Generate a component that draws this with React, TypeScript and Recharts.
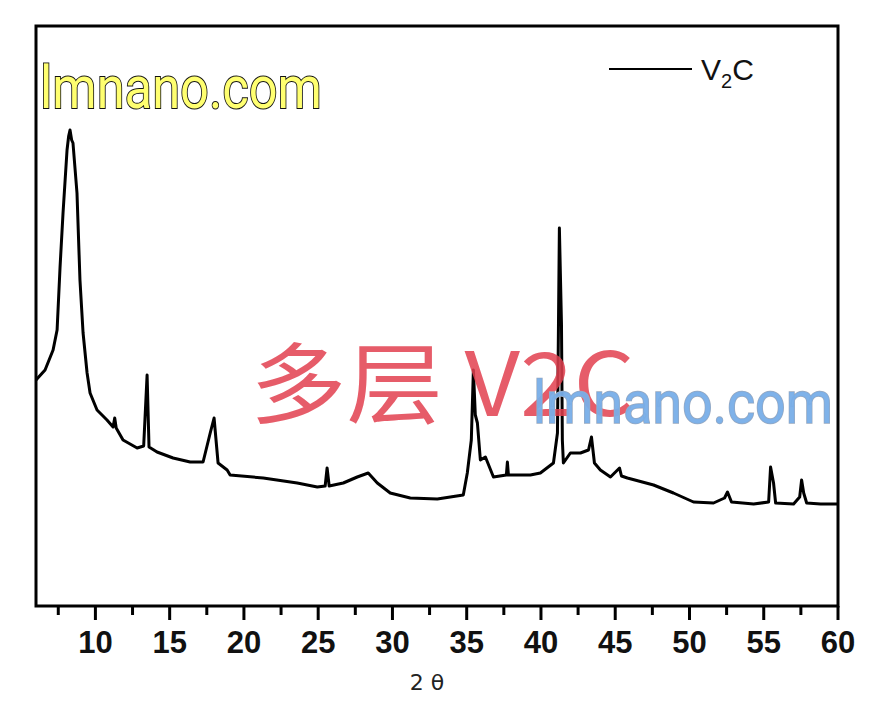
import React from 'react';
import { LineChart, Line, XAxis, YAxis, ReferenceArea } from 'recharts';

const twoTheta = [
  6.0, 6.61, 7.15, 7.42, 7.62, 7.82, 8.09, 8.2, 8.29, 8.4, 8.49, 8.76, 8.96, 9.17, 9.44, 9.64,
  10.11, 10.78, 11.19, 11.3, 11.4, 11.86, 12.81, 13.25, 13.48, 13.61, 14.15, 15.23, 16.38, 17.25,
  17.73, 17.99, 18.26, 18.87, 19.07, 21.3, 23.59, 24.94, 25.47, 25.6, 25.74, 26.69,
  27.63, 28.37, 28.98, 29.85, 31.2, 33.02, 34.77, 35.04, 35.31, 35.45, 35.58, 35.72,
  35.92, 36.26, 36.8, 37.67, 37.74, 37.81, 39.29, 39.96, 40.84, 41.11, 41.24, 41.38,
  41.44, 41.51, 41.98, 42.66, 43.2, 43.4, 43.6, 44.0, 44.68, 45.29, 45.42, 45.82,
  47.58, 48.92, 50.27, 51.62, 52.36, 52.56, 52.83, 54.32, 55.33, 55.46, 55.66, 55.8,
  57.01, 57.42, 57.55, 57.69, 57.89, 58.83, 60.0,
];

const intensity = [
  226, 236, 256, 276, 339, 393, 456, 470, 476, 466, 463, 413, 326, 273, 233, 213,
  196, 186, 179, 188, 178, 166, 158, 160, 231, 159, 154, 148, 144, 144,
  173, 188, 143, 136, 131, 128, 123, 119, 120, 138, 120, 123,
  129, 133, 123, 113, 108, 107, 111, 133, 166, 236, 191, 183,
  146, 149, 129, 131, 144, 131, 131, 133, 143, 173, 378, 283,
  166, 143, 153, 153, 156, 169, 143, 136, 129, 138, 130, 128,
  121, 113, 104, 103, 108, 114, 104, 102, 104, 139, 123, 103,
  102, 109, 126, 113, 103, 102, 102,
];

const majorTicks = [10, 15, 20, 25, 30, 35, 40, 45, 50, 55, 60];
const minorTicks = [7.5, 12.5, 17.5, 22.5, 27.5, 32.5, 37.5, 42.5, 47.5, 52.5, 57.5];
const xLabel = '2 θ';
const seriesName = 'V';
const watermarkMain = 'lmnano.com';
const watermarkCenter = '多层 V2C';

const data = twoTheta.map((x, i) => ({ x, y: intensity[i] }));
const allTicks = [...minorTicks, ...majorTicks].sort((a, b) => a - b);

const Tick = (props: any) => {
  const { x, y, payload } = props;
  const v = payload.value;
  const isMajor = majorTicks.includes(v);
  return (
    <g>
      <line x1={x} y1={y} x2={x} y2={y + (isMajor ? 14 : 9)} stroke="#000" strokeWidth={3} />
      {isMajor && (
        <text
          x={x}
          y={y + 47}
          textAnchor="middle"
          fontFamily="'Liberation Sans', Arial, sans-serif"
          fontWeight="bold"
          fontSize={31}
          fill="#111"
        >
          {v}
        </text>
      )}
    </g>
  );
};

export default function App() {
  return (
    <div style={{ position: 'absolute', left: 0, top: 0, width: 879, height: 707, background: '#fff' }}>
      <LineChart
        width={879}
        height={707}
        data={data}
        margin={{ top: 26, right: 41, left: 36, bottom: 41 }}
      >
        <XAxis
          dataKey="x"
          type="number"
          domain={[6, 60]}
          ticks={allTicks}
          interval={0}
          allowDataOverflow
          axisLine={false}
          tickLine={false}
          tickSize={0}
          tickMargin={0}
          height={60}
          tick={<Tick />}
        />
        <YAxis hide type="number" domain={[0, 580]} allowDataOverflow />
        <ReferenceArea x1={6} x2={60} y1={0} y2={580} fill="none" stroke="#000" strokeWidth={3} ifOverflow="visible" />
        <Line
          type="linear"
          dataKey="y"
          stroke="#000"
          strokeWidth={3}
          strokeLinejoin="round"
          dot={false}
          isAnimationActive={false}
        />
      </LineChart>
      <svg
        width={879}
        height={707}
        style={{ position: 'absolute', left: 0, top: 0, pointerEvents: 'none' }}
      >
        <text
          x={427}
          y={690}
          textAnchor="middle"
          fontFamily="'DejaVu Sans', sans-serif"
          fontSize={22}
          fill="#222"
        >
          {xLabel}
        </text>
        <line x1={609} y1={69} x2={692} y2={69} stroke="#000" strokeWidth={2} />
        <text x={701} y={80} fontFamily="'Liberation Sans', Arial, sans-serif" fontSize={30} fill="#111">
          {seriesName}
          <tspan fontSize={20} dy={8}>2</tspan>
          <tspan fontSize={30} dy={-8}>C</tspan>
        </text>
        <text
          x={40}
          y={108}
          fontFamily="Roboto, 'Liberation Sans', sans-serif"
          fontSize={60}
          textLength={282}
          lengthAdjust="spacingAndGlyphs"
          fill="#ffff70"
          stroke="#111"
          strokeWidth={2}
          style={{ paintOrder: 'stroke' }}
        >
          {watermarkMain}
        </text>
        <text
          x={250}
          y={416}
          fontFamily="'Noto Sans CJK SC', sans-serif"
          fontSize={88}
          textLength={385}
          lengthAdjust="spacingAndGlyphs"
          fill="#e2404f"
          fillOpacity={0.85}
        >
          {watermarkCenter}
        </text>
        <text
          x={533}
          y={423}
          fontFamily="Roboto, 'Liberation Sans', sans-serif"
          fontSize={60}
          textLength={300}
          lengthAdjust="spacingAndGlyphs"
          fill="#78aee8"
          fillOpacity={0.95}
          stroke="#9aaac0"
          strokeWidth={1.5}
          style={{ paintOrder: 'stroke' }}
        >
          {watermarkMain}
        </text>
      </svg>
    </div>
  );
}
